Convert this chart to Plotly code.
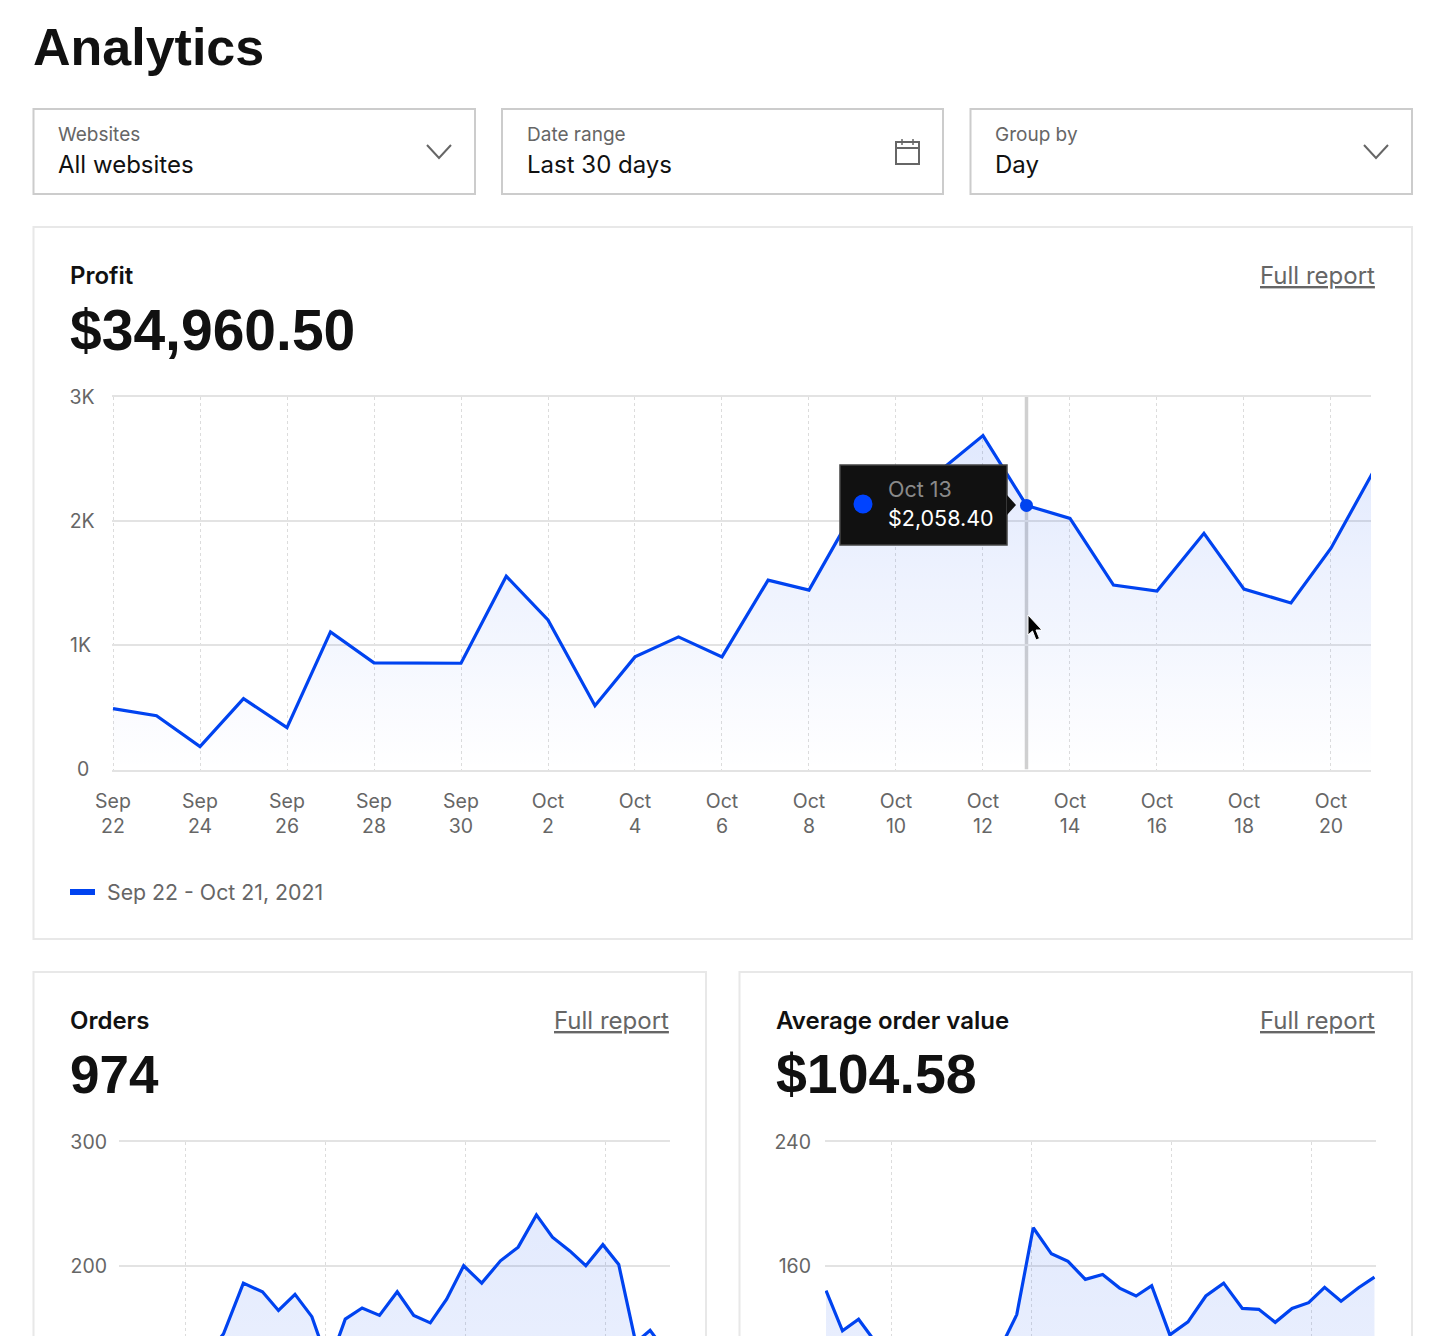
import plotly.graph_objects as go

W = 1450
H = 1336

BLUE = "#0043f0"
GREY = "#666666"
DARK = "#111111"
FONT = "Inter"
HEAD_FONT = "Liberation Sans"

# profit per day, Sep 22 - Oct 21. x is days since Sep 22, the points are not quite evenly spaced in the picture
profit_x = [0, 1, 2, 3, 4, 5, 6, 7, 8, 9.04, 10, 11.08, 12, 13, 14, 15.06, 16, 17, 18, 19, 20, 21, 22, 23, 24,
            25.08, 26, 27.08, 28, 29]
profit = [490, 433, 185, 570, 337, 1107, 858, 855, 855, 1556, 1203, 513, 906, 1067, 906,
          1524, 1444, 2061, 2166, 2400, 2687, 2125, 2021, 1484, 1436, 1901, 1452, 1340, 1781, 2414]
profit_ticks = ["Sep<br>22", "Sep<br>24", "Sep<br>26", "Sep<br>28", "Sep<br>30", "Oct<br>2", "Oct<br>4", "Oct<br>6",
                "Oct<br>8", "Oct<br>10", "Oct<br>12", "Oct<br>14", "Oct<br>16", "Oct<br>18", "Oct<br>20"]
profit_y_ticks = [0, 1000, 2000, 3000]
profit_y_labels = ["0\u00a0", "1K\u2009", "2K", "3K"]
hover_day = 21

# the first points of these two are below the fold, so they are a guess
orders_x = [0, 1, 2, 3, 4, 5, 5.83, 7, 8.12, 9.06, 10.03, 11.02, 12.01, 12.98, 13.97, 14.99, 16.03, 17, 17.97, 18.93,
            19.93, 20.99, 22.09, 23.13, 24.2, 25.14, 26.16, 27.1, 28.1, 29.03, 30.03, 30.87, 32, 33]
orders = [110, 122, 104, 118, 126, 131, 145, 186, 179, 164, 177, 159, 120, 157, 166, 160, 179, 160, 154,
          173, 200, 186, 204, 215, 241, 223, 212, 200, 217, 201, 138, 148, 127, 125]
aov_x = [0, 0.96, 1.9, 3, 4, 5, 6, 7, 8, 9, 10, 11.13, 12.09, 13.15, 14.12, 15.13, 16.14, 17.13, 18.09, 19, 20.06,
         21.12, 22.16, 23.2, 24.29, 25.25, 26.21, 27.19, 28.16, 29.09, 30.05, 31.07, 32]
aov = [144, 118, 125.5, 109, 100, 96, 92, 98, 95, 100, 103, 128.5, 184.5, 167.7, 162.8, 151.2, 154.4, 145.6,
       140.5, 147.1, 115.4, 123.8, 140.5, 148.8, 132.5, 131.9, 123.5, 132.5, 136.2, 146.1, 137.1, 145.8, 152.7]


def px(x):
    return x / W


def py(y):
    return 1 - y / H


fig = go.Figure()


def text(x, y, s, size=20, color=DARK, anchor="left", weight=400, family=FONT):
    fig.add_annotation(x=px(x), y=py(y), xref="paper", yref="paper", text=s, showarrow=False,
                       xanchor=anchor, yanchor="middle", borderpad=0, borderwidth=0,
                       font=dict(family=family, size=size, color=color, weight=weight))


def box(x0, y0, x1, y1, color, width=2, fill=None):
    fig.add_shape(type="rect", xref="paper", yref="paper", x0=px(x0), y0=py(y0), x1=px(x1), y1=py(y1),
                  line=dict(color=color, width=width), fillcolor=fill)


def path(points, color=None, width=2, fill=None, close=False):
    d = "M" + " L".join(f"{px(a):.5f} {py(b):.5f}" for a, b in points) + (" Z" if close else "")
    fig.add_shape(type="path", xref="paper", yref="paper", path=d,
                  line=dict(color=color, width=width), fillcolor=fill)


def area(xs, values, xname, yname, top, bottom):
    fig.add_trace(go.Scatter(
        x=xs, y=values, xaxis=xname, yaxis=yname, mode="lines",
        line=dict(color=BLUE, width=3.2), fill="tozeroy",
        fillgradient=dict(type="vertical", colorscale=[[0, bottom], [1, top]]),
        showlegend=False, hoverinfo="skip"))


area(profit_x, profit, "x", "y", "rgba(0,67,240,0.12)", "rgba(0,67,240,0.0)")
area(orders_x, orders, "x2", "y2", "rgba(0,67,240,0.11)", "rgba(0,67,240,0.06)")
area(aov_x, aov, "x3", "y3", "rgba(0,67,240,0.11)", "rgba(0,67,240,0.06)")

# hovered day marker
fig.add_trace(go.Scatter(x=[profit_x[hover_day]], y=[profit[hover_day]], mode="markers",
                         marker=dict(color=BLUE, size=13), showlegend=False, hoverinfo="skip"))

# top and bottom rules come from the x axis line, plotly drops gridlines sitting on the range ends
grid = dict(showgrid=True, gridcolor="#dcdcdc", gridwidth=1, griddash="3px,3px", zeroline=False,
            showline=True, mirror=True, linecolor="#e3e3e3", linewidth=1.5, ticks="", automargin=False)
hgrid = dict(showgrid=True, gridcolor="#e3e3e3", gridwidth=1.5, zeroline=False, showline=False, ticks="",
             automargin=False, tickfont=dict(family=FONT, size=19.5, color=GREY))

fig.update_layout(
    width=W, height=H, margin=dict(l=0, r=0, t=0, b=0, autoexpand=False), paper_bgcolor="white", plot_bgcolor="white",
    hovermode=False, showlegend=False,
    xaxis=dict(domain=[px(111.7), px(1371)], range=[-0.03, 28.92], tickvals=list(range(0, 29, 2)),
               ticktext=profit_ticks, tickfont=dict(family=FONT, size=19.5, color=GREY), ticklabelstandoff=13,
               tickangle=0, **grid),
    yaxis=dict(domain=[py(769.5), py(396.7)], range=[0, 3000], tickvals=profit_y_ticks, ticktext=profit_y_labels,
               ticklabelstandoff=16, **hgrid),
    xaxis2=dict(domain=[px(119), px(670)], range=[-0.3, 32.04], tick0=3.6, dtick=8.22, showticklabels=False,
                anchor="y2", **grid),
    yaxis2=dict(domain=[0, py(1141.7)], range=[143.4, 300], tickvals=[200, 300], anchor="x2",
                ticklabelstandoff=11, **hgrid),
    xaxis3=dict(domain=[px(825), px(1375.5)], range=[-0.06, 32.06], tick0=3.82, dtick=8.17, showticklabels=False,
                anchor="y3", **grid),
    yaxis3=dict(domain=[0, py(1141.7)], range=[114.7, 240], tickvals=[160, 240], anchor="x3",
                ticklabelstandoff=13, **hgrid),
)

# crosshair
fig.add_shape(type="line", xref="x", yref="y", x0=profit_x[hover_day], x1=profit_x[hover_day], y0=0, y1=3000,
              line=dict(color="#d0d0d0", width=3.5), layer="below")

# page header and filters
text(33, 47, "Analytics", size=52, weight=700, family=HEAD_FONT)
filters = [(33.5, 475, "Websites", "All websites"), (502, 943, "Date range", "Last 30 days"),
           (970.5, 1412, "Group by", "Day")]
for x0, x1, label, value in filters:
    box(x0, 109, x1, 194, "#cccccc")
    text(x0 + 24.5, 134, label, size=19, color=GREY)
    text(x0 + 24.5, 164.5, value, size=24)
path([(427, 145), (439, 158), (451, 145)], color=GREY)
path([(1364, 145), (1376, 158), (1388, 145)], color=GREY)
box(896, 142, 919, 164, GREY)
path([(896, 148), (919, 148)], color=GREY)
path([(902, 139), (902, 145)], color=GREY, width=1.5)
path([(913, 139), (913, 145)], color=GREY, width=1.5)

# cards
box(33.5, 227, 1412, 939, "#e8e8e8")
box(33.5, 972, 706, 1345, "#e8e8e8")
box(739.5, 972, 1412, 1345, "#e8e8e8")
cards = [(70, 1375, 275, 329.5, "Profit", "$34,960.50", 57), (70, 669, 1020, 1074, "Orders", "974", 53),
         (776, 1375, 1020, 1074, "Average order value", "$104.58", 55.5)]
for x0, x1, y0, y1, title, total, total_size in cards:
    text(x0, y0, title, size=24, weight=600)
    text(x0, y1, total, size=total_size, weight=700, family=HEAD_FONT)
    text(x1, y0, "<u>Full report</u>", size=24, color=GREY, anchor="right")

# legend
box(70, 889, 95, 895, BLUE, width=0, fill=BLUE)
text(107, 892, "Sep 22 - Oct 21, 2021", size=21.3, color=GREY)

# tooltip
box(840, 465, 1007, 545, "#444444", width=1.5, fill="#111111")
path([(1007, 495), (1016, 505), (1007, 515)], color="#111111", width=0, fill="#111111", close=True)
fig.add_shape(type="circle", xref="paper", yref="paper", x0=px(853.5), y0=py(513.5), x1=px(872.5), y1=py(494.5),
              fillcolor="#0043ff", line=dict(width=0))
text(888, 489, "Oct 13", size=21.5, color="#8a8a8a")
text(888, 518, "$2,058.40", size=21.5, color="#ffffff")

# mouse pointer
path([(1028, 615), (1028, 635), (1032.5, 631), (1036, 640), (1039.5, 638.5), (1036, 630), (1042, 630)],
     color="#ffffff", width=1, fill="#000000", close=True)

fig.write_html("out.html", config={"displayModeBar": False},
               post_script="document.body.style.margin='0';document.body.style.overflow='hidden';")
